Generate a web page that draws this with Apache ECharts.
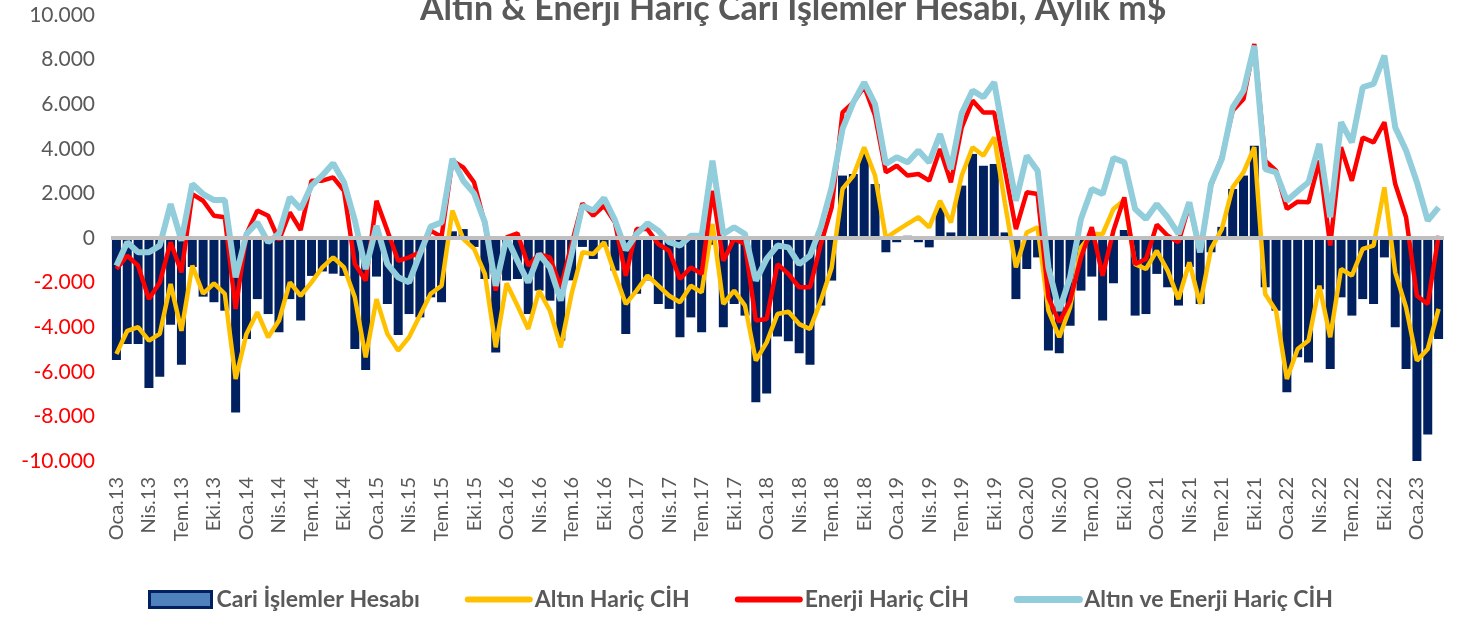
<!DOCTYPE html>
<html>
<head>
<meta charset="utf-8">
<script src="https://cdn.jsdelivr.net/npm/echarts@6/dist/echarts.min.js"></script>
<style>
  html, body { margin: 0; padding: 0; background: #fff; }
  #chart { width: 1463px; height: 617px; }
</style>
</head>
<body>
<div id="chart"></div>
<script>
  // aylar (Oca.13 - Mar.23)
  var monthNames = ['Oca', 'Şub', 'Mar', 'Nis', 'May', 'Haz', 'Tem', 'Ağu', 'Eyl', 'Eki', 'Kas', 'Ara']
  var years = ['13', '14', '15', '16', '17', '18', '19', '20', '21', '22', '23']
  var lastMonthCount = 3

  // Cari İşlemler Hesabı, m$
  var cariIslemler = [
    -5470, -4750, -4750, -6730, -6220, -3890, -5680, -1300, -2630, -2880, -3260, -7820,
    -4530, -2740, -3410, -4230, -2740, -3700, -1700, -1500, -1600, -1700, -4980, -5920,
    -1730, -2960, -4350, -3410, -3560, -2660, -2880, 300, 400, -400, -1840, -5130,
    -1910, -1840, -3410, -2360, -2810, -4600, -1900, -400, -940, -400, -1460, -4300,
    -2500, -1900, -2960, -3180, -4450, -3560, -4230, -300, -4000, -2960, -3480, -7370,
    -6970, -4420, -4630, -5170, -5680, -3030, -1910, 2800, 2870, 3800, 2420, -640,
    -190, 100, -190, -420, 1370, 250, 2350, 3770, 3240, 3320, 250, -2740,
    -1390, -870, -5050, -5170, -3930, -2360, -1730, -3700, -2030, 360, -3480, -3410,
    -1610, -2210, -3030, -1300, -2960, -640, 500, 2200, 2800, 4140, -2210, -3260,
    -6920, -5350, -5580, -2300, -5870, -2660, -3480, -2740, -2960, -870, -4000, -5870,
    -10000, -8810, -4530
  ]
  // Altın Hariç CİH
  var altinHaric = [
    -5200, -4160, -4000, -4600, -4300, -2060, -4160, -1240, -2500, -2030, -2500, -6320,
    -4300, -3330, -4450, -3700, -1990, -2590, -1990, -1320, -870, -1320, -2660, -5350,
    -2740, -4300, -5050, -4450, -3480, -2500, -2140, 1230, -40, -490, -1610, -4900,
    -2030, -3030, -4080, -2360, -3260, -4900, -2500, -640, -720, -190, -1610, -2960,
    -2360, -1690, -2140, -2590, -2880, -2140, -2440, 630, -2960, -2360, -3030, -5500,
    -4680, -3410, -3300, -3860, -4080, -2810, -1320, 2200, 2800, 4070, 2800, 0,
    330, 630, 930, 480, 1670, 700, 2800, 4070, 3690, 4510, 1520, -1320,
    250, 480, -3260, -4450, -3110, -420, 180, 180, 1300, 1700, -1170, -1390,
    -570, -1460, -2740, -1090, -2960, -490, 400, 2270, 2940, 4070, -2510, -3260,
    -6320, -4980, -4600, -2140, -4450, -1390, -1690, -490, -340, 2270, -1540, -3110,
    -5500, -4980, -3180
  ]
  // Enerji Hariç CİH
  var enerjiHaric = [
    -1390, -790, -1240, -2740, -1990, -190, -1540, 1970, 1670, 1000, 930, -3180,
    180, 1230, 1000, -100, 1150, 360, 2570, 2570, 2720, 2120, -1170, -1910,
    1670, 330, -1020, -870, -640, 330, 50, 3470, 3170, 2500, 630, -2360,
    30, 210, -1240, -720, -870, -2210, -270, 1550, 1000, 1450, 700, -1690,
    400, 400, -270, -570, -1840, -1320, -1610, 2120, -1020, -40, -270, -3700,
    -3630, -1170, -1610, -2210, -2210, -270, 1370, 5630, 6080, 6790, 5490, 2940,
    3240, 2800, 2870, 2570, 3990, 2500, 4960, 6160, 5630, 5630, 3020, 400,
    2050, 1970, -2660, -3780, -2810, -870, 480, -1690, 330, 1820, -1170, -940,
    600, 100, -190, 1500, -640, 2350, 3620, 5710, 6230, 8700, 3470, 3020,
    1300, 1630, 1600, 3470, -340, 4070, 2570, 4510, 4290, 5190, 2420, 930,
    -2590, -2960, 100
  ]
  // Altın ve Enerji Hariç CİH
  var altinEnerjiHaric = [
    -1240, -190, -640, -640, -340, 1520, -120, 2420, 1970, 1700, 1700, -1760,
    180, 700, -190, 200, 1820, 1300, 2350, 2800, 3350, 2500, 780, -1390,
    550, -1170, -1760, -1990, -720, 510, 700, 3550, 2570, 2000, 700, -2140,
    30, -1020, -1990, -720, -1320, -2810, -720, 1450, 1230, 1790, 800, -540,
    180, 660, 330, -190, -340, 100, 100, 3470, 180, 480, 180, -1910,
    -940, -340, -420, -1170, -790, 480, 2270, 4890, 6080, 6980, 6000, 3320,
    3620, 3390, 3920, 3390, 4660, 3090, 5600, 6610, 6310, 6980, 4220, 1670,
    3690, 3020, -1320, -3260, -1760, 850, 2200, 1970, 3590, 3400, 1300, 850,
    1520, 930, 180, 1600, -640, 2420, 3540, 5860, 6610, 8620, 3090, 2940,
    1670, 2100, 2500, 4220, 930, 5190, 4290, 6760, 6910, 8180, 4960, 3920,
    2500, 780, 1370
  ]

  var categories = []
  for (var y = 0; y < years.length; y++) {
    var n = y === years.length - 1 ? lastMonthCount : 12
    for (var m = 0; m < n; m++) {
      categories.push(monthNames[m] + '.' + years[y])
    }
  }

  function fmtNum(v) {
    if (v === 0) return '0'
    var s = String(Math.abs(v)).replace(/\B(?=(\d{3})+(?!\d))/g, '.')
    return (v < 0 ? '-' : '') + s
  }

  var FONT = 'Lato, "Noto Sans", sans-serif'
  var GRAY = '#595959'
  var noSymbol = { color: 'rgba(0,0,0,0)', borderWidth: 0, opacity: 0 }

  var chart = echarts.init(document.getElementById('chart'))
  var option = {
    animation: false,
    backgroundColor: '#fff',
    title: {
      text: 'Altın & Enerji Hariç Cari İşlemler Hesabı, Aylık m$',
      left: 420,
      top: -8,
      padding: 0,
      textStyle: {
        fontFamily: FONT,
        fontSize: 34,
        fontWeight: 'bold',
        color: GRAY
      }
    },
    grid: {
      left: 111,
      right: 19,
      top: 15,
      bottom: 156,
      containLabel: false
    },
    legend: {
      left: 143,
      top: 583,
      itemWidth: 62,
      itemHeight: 16,
      itemGap: 45,
      textStyle: {
        fontFamily: FONT,
        fontSize: 23,
        fontWeight: 'bold',
        color: GRAY
      },
      data: [
        {
          name: 'Cari İşlemler Hesabı',
          icon: 'rect',
          itemStyle: { color: '#4F81BD', borderColor: '#002060', borderWidth: 3 }
        },
        { name: 'Altın Hariç CİH', itemStyle: noSymbol, lineStyle: { width: 6, cap: 'round' } },
        { name: 'Enerji Hariç CİH', itemStyle: noSymbol, lineStyle: { width: 6, cap: 'round' } },
        { name: 'Altın ve Enerji Hariç CİH', itemStyle: noSymbol, lineStyle: { width: 7, cap: 'round' } }
      ]
    },
    xAxis: {
      type: 'category',
      data: categories,
      boundaryGap: true,
      axisLine: { show: false, onZero: false },
      axisTick: { show: false },
      splitLine: { show: false },
      axisLabel: {
        interval: 2,
        rotate: 90,
        margin: 16,
        fontFamily: FONT,
        fontSize: 20,
        color: GRAY
      }
    },
    yAxis: {
      type: 'value',
      min: -10000,
      max: 10000,
      interval: 2000,
      axisLine: { show: false },
      axisTick: { show: false },
      splitLine: { show: false },
      axisLabel: {
        margin: 16,
        fontFamily: FONT,
        fontSize: 21,
        color: function (v) { return v < 0 ? '#FF0000' : GRAY },
        formatter: fmtNum
      }
    },
    series: [
      {
        name: 'Cari İşlemler Hesabı',
        type: 'bar',
        data: cariIslemler,
        barWidth: 9,
        itemStyle: { color: '#002060' },
        markLine: {
          silent: true,
          symbol: 'none',
          label: { show: false },
          lineStyle: { color: '#BFBFBF', width: 4, type: 'solid' },
          data: [{ yAxis: 0 }]
        }
      },
      {
        name: 'Altın Hariç CİH',
        type: 'line',
        data: altinHaric,
        symbol: 'none',
        itemStyle: { color: '#FFC000' },
        lineStyle: { color: '#FFC000', width: 4.5 }
      },
      {
        name: 'Enerji Hariç CİH',
        type: 'line',
        data: enerjiHaric,
        symbol: 'none',
        itemStyle: { color: '#FF0000' },
        lineStyle: { color: '#FF0000', width: 4.5 }
      },
      {
        name: 'Altın ve Enerji Hariç CİH',
        type: 'line',
        data: altinEnerjiHaric,
        symbol: 'none',
        itemStyle: { color: '#92CDDC' },
        lineStyle: { color: '#92CDDC', width: 6 }
      }
    ]
  }
  chart.setOption(option)
</script>
</body>
</html>
